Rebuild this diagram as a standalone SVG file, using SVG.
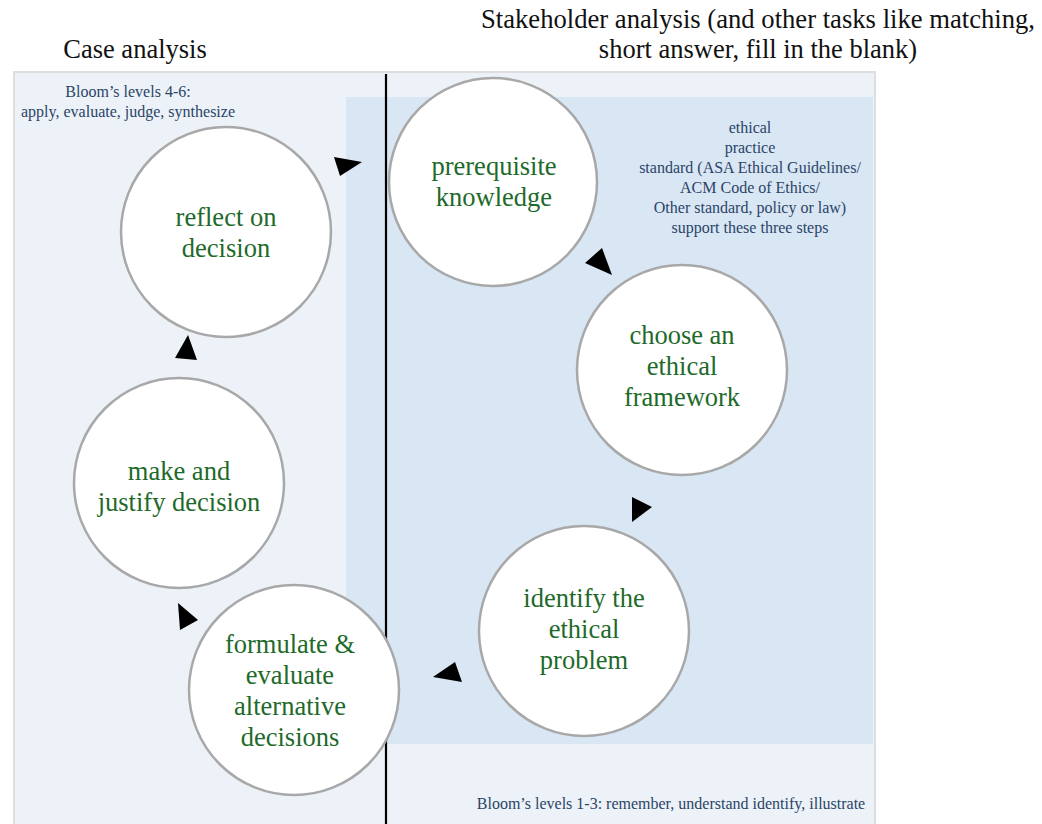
<svg xmlns="http://www.w3.org/2000/svg" width="1042" height="824" viewBox="0 0 1042 824">
<style>
.head{font-family:"Liberation Serif",serif;font-size:26.5px;fill:#111;text-anchor:middle}
.note{font-family:"Liberation Serif",serif;font-size:16px;fill:#2b4468;text-anchor:middle}
.lbl{font-family:"Liberation Serif",serif;font-size:26.5px;fill:#1e6a2a;text-anchor:middle}
.node circle{fill:#fff;stroke:#a8a8a8;stroke-width:2.5}
.arr{fill:#000}
</style>
<rect x="0" y="0" width="1042" height="824" fill="#fff"/>
<text class="head" x="135" y="58">Case analysis</text>
<text class="head" x="758" y="28" textLength="554" lengthAdjust="spacingAndGlyphs">Stakeholder analysis (and other tasks like matching,</text>
<text class="head" x="758" y="58">short answer, fill in the blank)</text>
<rect x="14" y="72" width="861" height="760" fill="#ecf2f7" stroke="#dedede" stroke-width="2"/>
<rect x="346" y="97" width="527" height="647" fill="#d9e6f3"/>
<line x1="386" y1="74" x2="386" y2="824" stroke="#000" stroke-width="2.2"/>
<text class="note" x="128" y="97">Bloom’s levels 4-6:</text>
<text class="note" x="128" y="117">apply, evaluate, judge, synthesize</text>
<g class="note">
<text x="750" y="133">ethical</text>
<text x="750" y="153">practice</text>
<text x="750" y="173">standard (ASA Ethical Guidelines/</text>
<text x="750" y="193">ACM Code of Ethics/</text>
<text x="750" y="213">Other standard, policy or law)</text>
<text x="750" y="233">support these three steps</text>
</g>
<text class="note" x="671" y="809">Bloom’s levels 1-3: remember, understand identify, illustrate</text>
<g id="connectors">
<polygon class="arr" points="334,157 362,162 340,176"/>
<polygon class="arr" points="602,248 585,263 612,275"/>
<polygon class="arr" points="632,497 652,507 632,522"/>
<polygon class="arr" points="433,677 455,662 462,682"/>
<polygon class="arr" points="178,603 198,620 180,630"/>
<polygon class="arr" points="188,335 197,360 175,358"/>
</g>
<g id="reflect" class="node"><circle cx="226" cy="232" r="105"/>
<text class="lbl" x="226" y="226">reflect on</text><text class="lbl" x="226" y="257">decision</text></g>
<g id="prerequisite" class="node"><circle cx="493" cy="182" r="104"/>
<text class="lbl" x="494" y="175">prerequisite</text><text class="lbl" x="494" y="206">knowledge</text></g>
<g id="choose" class="node"><circle cx="682" cy="370" r="105"/>
<text class="lbl" x="682" y="344">choose an</text><text class="lbl" x="682" y="375">ethical</text><text class="lbl" x="682" y="406">framework</text></g>
<g id="identify" class="node"><circle cx="584" cy="631" r="105"/>
<text class="lbl" x="584" y="607">identify the</text><text class="lbl" x="584" y="638">ethical</text><text class="lbl" x="584" y="669">problem</text></g>
<g id="formulate" class="node"><circle cx="294" cy="690" r="105"/>
<text class="lbl" x="290" y="653">formulate &amp;</text><text class="lbl" x="290" y="684">evaluate</text><text class="lbl" x="290" y="715">alternative</text><text class="lbl" x="290" y="746">decisions</text></g>
<g id="make" class="node"><circle cx="179" cy="483" r="105"/>
<text class="lbl" x="179" y="480">make and</text><text class="lbl" x="179" y="511">justify decision</text></g>
</svg>
